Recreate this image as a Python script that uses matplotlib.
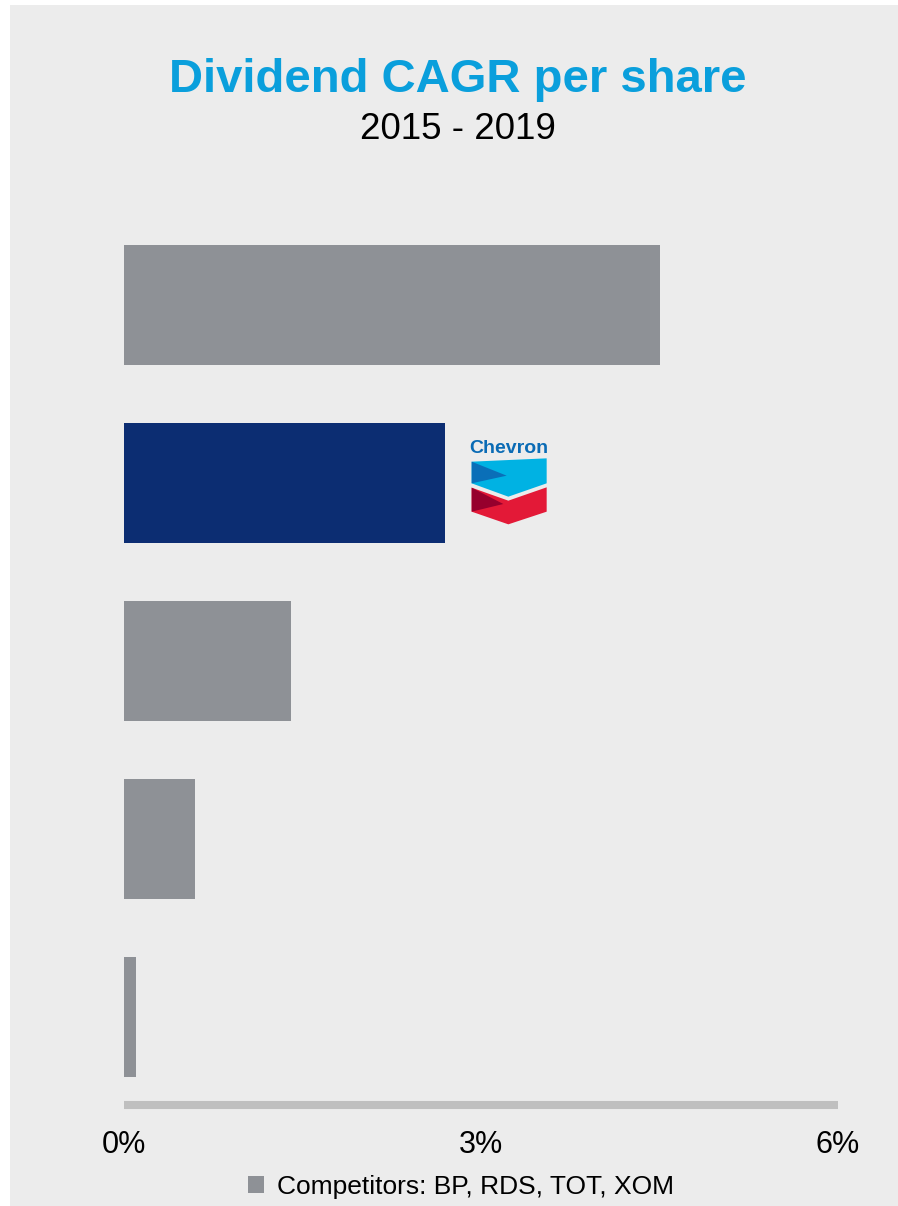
import numpy as np
import matplotlib.pyplot as plt
from matplotlib.patches import Rectangle, Polygon, Patch

plt.rcParams['font.family'] = ['Liberation Sans', 'DejaVu Sans']

# data
companies = ["Competitor A", "Chevron", "Competitor B", "Competitor C", "Competitor D"]
cagr = [4.5, 2.7, 1.4, 0.6, 0.1]
bar_colors = ["#8e9196", "#0c2d72", "#8e9196", "#8e9196", "#8e9196"]
tick_vals = [0, 3, 6]
tick_labels = ["0%", "3%", "6%"]

W, H = 898, 1206
fig = plt.figure(figsize=(W / 100, H / 100), dpi=100)
fig.patch.set_facecolor("white")
bg = Rectangle((10 / W, 0), 1 - 10 / W, 1 - 5 / H, transform=fig.transFigure,
               facecolor="#ececec", edgecolor="none", zorder=-10)
fig.add_artist(bg)

# main axes: x 124..838 px, y 200..1105 px
ax = fig.add_axes([124 / W, 1 - 1105 / H, (838 - 124) / W, (1105 - 200) / H])
ax.set_zorder(1)
ax.set_facecolor("none")
pos = np.arange(len(companies))
ax.barh(pos, cagr, height=120 / 178, color=bar_colors)
ax.set_xlim(0, 6)
ax.set_ylim(4 + 88 / 178, -105 / 178)

for s in ["top", "right", "left"]:
    ax.spines[s].set_visible(False)
ax.spines["bottom"].set_color("#bfbfbf")
ax.spines["bottom"].set_linewidth(5.8)
ax.spines["bottom"].set_capstyle("butt")
ax.set_yticks([])
ax.set_xticks(tick_vals)
ax.set_xticklabels(tick_labels, fontsize=22)
ax.tick_params(axis="x", length=0, pad=18)

fig.text(0.5 * (165 + 750) / W, 1 - 92 / H, "Dividend CAGR per share",
         ha="center", va="baseline", fontsize=34, fontweight="bold", color="#0a9fdc")
fig.text(0.5 * (358 + 557) / W, 1 - 139 / H, "2015 - 2019",
         ha="center", va="baseline", fontsize=26.5, color="black")

fig.legend(handles=[Patch(facecolor="#8e9196", edgecolor="none")],
           labels=["Competitors: BP, RDS, TOT, XOM"],
           loc="center", bbox_to_anchor=(461 / W, 1 - 1187 / H),
           frameon=False, fontsize=19, handlelength=0.6, handleheight=0.6,
           handletextpad=0.5)

# Chevron logo
lg = fig.add_axes([465 / W, 1 - 530 / H, 90 / W, 95 / H])
lg.set_zorder(2)
lg.set_xlim(0, 270)
lg.set_ylim(285, 0)
lg.axis("off")
lg.text(132, 40, "Chevron", ha="center", va="center", fontsize=14,
        fontweight="bold", color="#0a6bb5")
lg.add_patch(Polygon([(20, 80), (245, 70), (245, 145), (130, 185), (20, 145)],
                     closed=True, facecolor="#00b2e3", edgecolor="none"))
lg.add_patch(Polygon([(20, 80), (125, 122), (20, 145)],
                     closed=True, facecolor="#0a6fb8", edgecolor="none"))
lg.add_patch(Polygon([(20, 158), (130, 197), (245, 157), (245, 230), (130, 268), (20, 230)],
                     closed=True, facecolor="#e31937", edgecolor="none"))
lg.add_patch(Polygon([(20, 158), (115, 207), (20, 230)],
                     closed=True, facecolor="#96002d", edgecolor="none"))

fig.savefig("out.png", dpi=100)
